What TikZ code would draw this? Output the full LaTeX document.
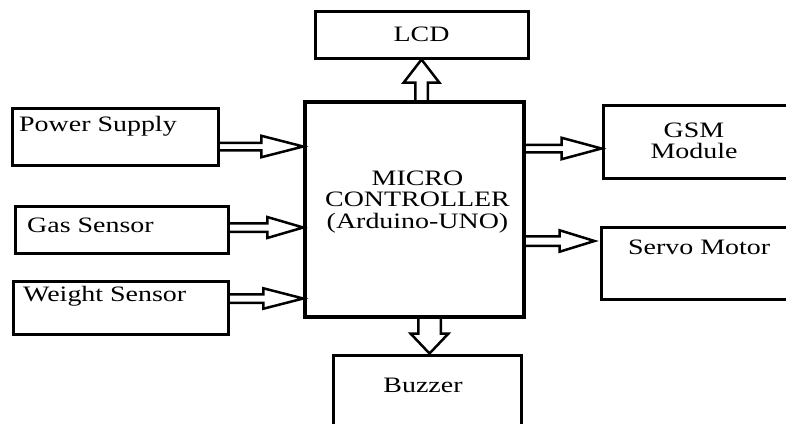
\documentclass[tikz,border=0pt]{standalone}
\usepackage{fontspec}
\setmainfont{Liberation Serif}[FakeStretch=1.27]
\usetikzlibrary{calc}

\begin{document}
\begin{tikzpicture}[x=1pt,y=-1pt,line join=miter,
  every node/.style={font=\fontsize{22}{21.5}\selectfont},
  box/.style={draw,line width=3pt,inner sep=0pt},
  lbl/.style={anchor=north west,inner sep=0pt},
  fat/.style n args={3}{line width=2.5pt,to path={
    ($(\tikztostart)!#1!90:(\tikztotarget)$) --
    ($(\tikztotarget)!#3!(\tikztostart)!#1!-90:(\tikztostart)$) --
    ($(\tikztotarget)!#3!(\tikztostart)!#2!-90:(\tikztostart)$) --
    (\tikztotarget) --
    ($(\tikztotarget)!#3!(\tikztostart)!#2!90:(\tikztostart)$) --
    ($(\tikztotarget)!#3!(\tikztostart)!#1!90:(\tikztostart)$) --
    ($(\tikztostart)!#1!-90:(\tikztotarget)$)}}]
\path[use as bounding box] (0,0) rectangle (786,423);
\clip (0,0) rectangle (786,423);
\node[box,minimum width=205.5pt,minimum height=57pt,
  label={[lbl,xshift=8pt,yshift=-10pt]north west:Power Supply}] (ps) at (115.25,136.5) {};
\node[box,minimum width=213pt,minimum height=47pt,
  label={[lbl,xshift=13.5pt,yshift=-13.5pt]north west:Gas Sensor}] (gas) at (121.5,229.5) {};
\node[box,minimum width=215pt,minimum height=53pt,
  label={[lbl,xshift=11.5pt,yshift=-7pt]north west:Weight Sensor}] (wt) at (120.5,307.5) {};
\node[box,line width=3.5pt,minimum width=219pt,minimum height=215pt,
  label={[lbl,anchor=north,align=center,xshift=3pt,yshift=-70pt]north:MICRO\\CONTROLLER\\(Arduino-UNO)}] (mc) at (414.5,209.5) {};
\node[box,minimum width=213pt,minimum height=47pt] (lcd) at (421.5,34.5) {LCD};
\node[box,minimum width=192pt,minimum height=73pt,
  label={[lbl,anchor=north,align=center,xshift=-5pt,yshift=-19pt]north:GSM\\Module}] (gsm) at (699,141.5) {};
\node[box,minimum width=194pt,minimum height=72pt,
  label={[lbl,xshift=28.5pt,yshift=-14.5pt]north west:Servo Motor}] (sv) at (698,263) {};
\node[box,minimum width=188pt,minimum height=80pt,
  label={[lbl,anchor=north,xshift=-4pt,yshift=-24.5pt]north:Buzzer}] (bz) at (427,395) {};
\coordinate (psa) at ([yshift=-10pt]ps.east);
\coordinate (gasa) at ([yshift=2pt]gas.east);
\coordinate (wta) at ([yshift=9pt]wt.east);
\coordinate (gsma) at ([yshift=-7pt]gsm.west);
\coordinate (sva) at ([xshift=-5pt,yshift=22pt]sv.west);
\coordinate (bza) at ([xshift=2.5pt]bz.north);
\draw[fat={3.75pt}{10.75pt}{42pt}] (psa) to (psa -| mc.west);
\draw[fat={4.25pt}{10.5pt}{36pt}] (gasa) to (gasa -| mc.west);
\draw[fat={4.25pt}{10.25pt}{40pt}] (wta) to (wta -| mc.west);
\draw[fat={3.75pt}{10.75pt}{40pt}] (gsma -| mc.east) to (gsma);
\draw[fat={4.75pt}{10.75pt}{35pt}] (sva -| mc.east) to (sva);
\draw[fat={6.25pt}{17.75pt}{23pt}] (lcd.south |- mc.north) to (lcd.south);
\draw[fat={11.25pt}{19pt}{20pt}] (bza |- mc.south) to (bza);
\end{tikzpicture}
\end{document}
